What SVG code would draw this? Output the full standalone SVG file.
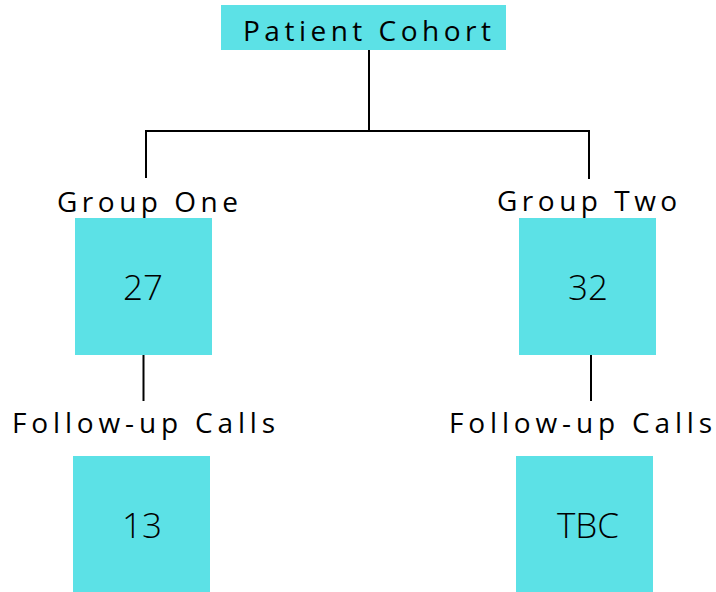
<svg xmlns="http://www.w3.org/2000/svg" width="716" height="592" viewBox="0 0 716 592">
<style>
.box{fill:#5CE1E6}
.lbl{font-family:"Open Sans","Liberation Sans",sans-serif;font-size:28px;letter-spacing:4.5px;fill:#000}
.fu{letter-spacing:4.85px}
.num{font-family:"Open Sans","Liberation Sans",sans-serif;font-size:35px;font-weight:300;fill:#000;text-anchor:middle}
.conn{stroke:#000;stroke-width:2;fill:none}
</style>
<rect width="716" height="592" fill="#fff"/>
<g id="connectors">
<path class="conn" d="M369,50 V131"/>
<path class="conn" d="M145,131 H590"/>
<path class="conn" d="M146,131 V178"/>
<path class="conn" d="M589,131 V179"/>
<path class="conn" d="M143.5,355 V401"/>
<path class="conn" d="M591,355 V401"/>
</g>
<g id="patient-cohort">
<rect class="box" x="221" y="5" width="285" height="45"/>
<text class="lbl" x="243" y="41">Patient Cohort</text>
</g>
<g id="group-one">
<text class="lbl" x="57" y="212">Group One</text>
<rect class="box" x="75" y="218" width="137" height="137"/>
<text class="num" x="143" y="300">27</text>
</g>
<g id="group-two">
<text class="lbl" x="497" y="211">Group Two</text>
<rect class="box" x="519" y="218" width="137" height="137"/>
<text class="num" x="588" y="300">32</text>
</g>
<g id="follow-up-one">
<text class="lbl fu" x="12" y="433">Follow-up Calls</text>
<rect class="box" x="73" y="456" width="137" height="136"/>
<text class="num" x="142" y="538">13</text>
</g>
<g id="follow-up-two">
<text class="lbl fu" x="449" y="433">Follow-up Calls</text>
<rect class="box" x="516" y="456" width="137" height="136"/>
<text class="num" x="588" y="538">TBC</text>
</g>
</svg>
